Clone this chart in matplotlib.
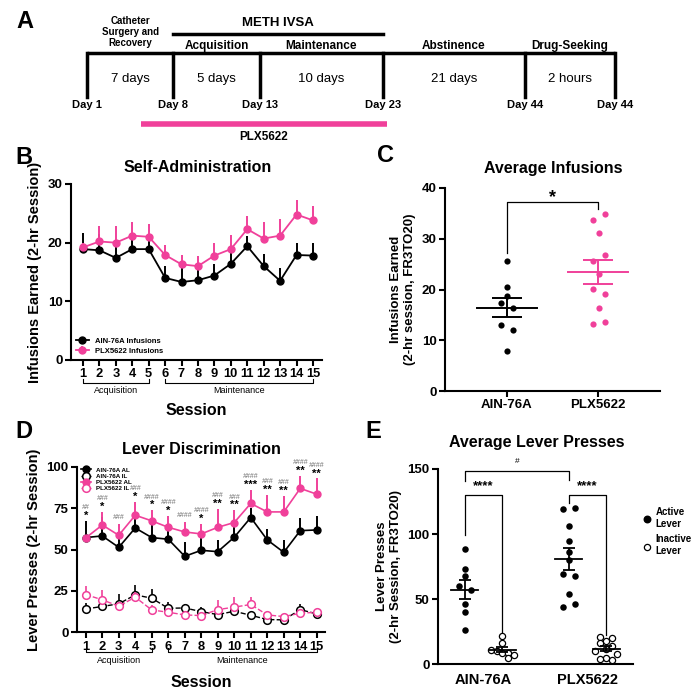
import numpy as np
import matplotlib
matplotlib.use("Agg")
import matplotlib.pyplot as plt
import matplotlib.transforms as mtransforms

plt.rcParams['font.family'] = ['Liberation Sans', 'DejaVu Sans']
plt.rcParams['font.weight'] = 'bold'
plt.rcParams['axes.labelweight'] = 'bold'
plt.rcParams['axes.linewidth'] = 1.5
plt.rcParams['xtick.major.width'] = 1.5
plt.rcParams['ytick.major.width'] = 1.5
plt.rcParams['xtick.major.size'] = 4
plt.rcParams['ytick.major.size'] = 4

PINK = '#F0409A'

# ---- panel A timeline
day_labels = ["Day 1", "Day 8", "Day 13", "Day 23", "Day 44", "Day 44"]
durations = ["7 days", "5 days", "10 days", "21 days", "2 hours"]
phases = ["Acquisition", "Maintenance", "Abstinence", "Drug-Seeking"]

# ---- panel B
sessions = np.arange(1, 16)
ain_inf = [18.9, 18.7, 17.4, 18.9, 18.9, 14.0, 13.3, 13.6, 14.4, 16.4, 19.4, 16.0, 13.5, 17.9, 17.8]
ain_inf_sem = [2.7, 2.7, 2.8, 2.3, 2.0, 2.0, 2.3, 2.2, 1.9, 2.2, 1.8, 2.1, 2.1, 2.1, 2.1]
plx_inf = [19.2, 20.2, 20.0, 21.2, 21.0, 17.9, 16.3, 16.0, 17.8, 18.9, 22.3, 20.7, 21.2, 24.8, 23.8]
plx_inf_sem = [0.8, 2.6, 2.8, 2.4, 2.1, 1.7, 1.6, 1.7, 2.2, 2.4, 2.3, 2.8, 2.8, 2.4, 2.4]

# ---- panel C
c_groups = ["AIN-76A", "PLX5622"]
c_ain = [25.7, 20.4, 18.7, 17.4, 16.4, 13.1, 12.0, 7.8]
c_plx = [33.7, 34.8, 31.1, 25.7, 26.7, 23.1, 20.1, 19.1, 16.4, 13.2, 13.5]

# ---- panel D
ain_al = [57.2, 58.2, 51.3, 63.0, 57.2, 56.2, 45.9, 49.5, 48.7, 57.4, 69.3, 55.8, 48.3, 61.4, 61.8]
ain_al_sem = [10.0, 11.5, 8.0, 6.7, 10.5, 8.5, 8.6, 10.0, 7.3, 6.8, 5.8, 6.5, 7.5, 7.9, 8.3]
ain_il = [14.1, 15.6, 17.2, 22.6, 20.6, 14.5, 14.7, 12.5, 10.7, 12.7, 10.3, 7.7, 7.5, 13.7, 11.1]
ain_il_sem = [3.5, 3.6, 6.0, 5.7, 5.3, 3.5, 2.5, 2.7, 1.5, 2.5, 1.0, 1.0, 1.0, 3.5, 1.5]
plx_al = [57.0, 64.8, 58.6, 70.7, 67.3, 63.4, 60.6, 59.4, 63.4, 66.3, 77.8, 72.7, 72.7, 86.9, 83.4]
plx_al_sem = [1.0, 8.0, 7.0, 8.0, 6.4, 7.0, 6.0, 6.3, 11.3, 7.4, 8.0, 10.5, 9.5, 7.6, 9.5]
plx_il = [22.8, 19.6, 15.8, 21.2, 13.5, 12.1, 10.5, 10.1, 13.7, 15.2, 16.8, 10.5, 9.5, 11.5, 12.1]
plx_il_sem = [4.9, 5.7, 2.4, 3.0, 2.7, 2.0, 1.6, 2.0, 6.1, 6.0, 4.8, 1.6, 1.6, 1.0, 1.2]
d_hash = ["##", "###", "###", "###", "####", "####", "####", "####", "###", "###", "####", "###", "###", "####", "####"]
d_star = ["*", "*", "", "*", "*", "*", "", "*", "**", "**", "***", "**", "**", "**", "**"]

# ---- panel E
e_ain_active = [88.6, 72.9, 67.8, 60.4, 57.1, 46.3, 40.2, 26.1]
e_ain_inactive = [21.5, 16.0, 11.0, 10.0, 9.0, 8.5, 7.5, 5.0]
e_plx_active = [119.3, 120.3, 106.2, 95.0, 86.3, 80.1, 69.4, 67.8, 53.7, 46.3, 44.0]
e_plx_inactive = [21.0, 20.0, 18.0, 16.0, 14.0, 12.0, 10.0, 8.0, 5.0, 4.0, 3.0]

W, H = 695, 700
fig = plt.figure(figsize=(6.95, 7.0), dpi=100)


def fx(px):
    return px / W


def fy(py):
    return 1 - py / H


def sem(v):
    v = np.asarray(v)
    return v.std(ddof=1) / np.sqrt(len(v))


def style(ax):
    ax.spines['top'].set_visible(False)
    ax.spines['right'].set_visible(False)
    ax.tick_params(labelsize=9.5, pad=2)


# ================= A
axA = fig.add_axes([0, fy(140), 1, 140 / H])
axA.set_xlim(0, W)
axA.set_ylim(140, 0)
axA.axis('off')
tick_x = [87, 173, 260, 383, 525, 615]
axA.plot([tick_x[0], tick_x[-1]], [53, 53], color='k', lw=2.5, solid_capstyle='butt')
for i, x in enumerate(tick_x):
    axA.plot([x, x], [53, 97], color='k', lw=2.5)
    axA.text(x, 105, day_labels[i], ha='center', va='center', fontsize=8)
for i, d in enumerate(durations):
    cx = (tick_x[i] + tick_x[i + 1]) / 2
    axA.text(cx, 79, d, ha='center', va='center', fontsize=9.5, fontweight='normal')
    if i > 0:
        axA.text(cx, 46, phases[i - 1], ha='center', va='center', fontsize=8.5)
axA.text((tick_x[0] + tick_x[1]) / 2, 32, "Catheter\nSurgery and\nRecovery", ha='center', va='center',
         fontsize=7, linespacing=1.15)
axA.plot([tick_x[1], tick_x[3]], [34, 34], color='k', lw=2.5)
axA.text(278, 23, "METH IVSA", ha='center', va='center', fontsize=9.5)
axA.plot([141, 387], [124, 124], color=PINK, lw=4, solid_capstyle='butt')
axA.text(264, 137, "PLX5622", ha='center', va='center', fontsize=8.5)
fig.text(fx(25), fy(21), "A", fontsize=17, ha='center', va='center')

# ================= B
axB = fig.add_axes([fx(71), fy(360), fx(251), 176 / H])
style(axB)
zeros = np.zeros(15)
axB.errorbar(sessions, ain_inf, yerr=[zeros, ain_inf_sem], color='k', marker='o', ms=5, lw=1.3,
             elinewidth=1.4, capsize=0, label='AIN-76A Infusions', zorder=3)
axB.errorbar(sessions, plx_inf, yerr=[zeros, plx_inf_sem], color=PINK, marker='o', ms=5, lw=1.3,
             elinewidth=1.4, capsize=0, label='PLX5622 Infusions', zorder=4)
axB.set_ylim(0, 30)
axB.set_yticks([0, 10, 20, 30])
axB.set_xlim(0.27, 15.55)
axB.set_xticks(sessions)
axB.tick_params(axis='x', labelsize=9.3)
axB.set_ylabel("Infusions Earned (2-hr Session)", fontsize=10.5, labelpad=4)
axB.set_xlabel("Session", fontsize=11.5, labelpad=16)
axB.legend(loc='lower left', bbox_to_anchor=(0.0, 0.0), fontsize=5.5, frameon=False,
           handlelength=1.6, labelspacing=0.3, borderaxespad=0.3)
fig.text(fx(24), fy(158), "B", fontsize=17, ha='center', va='center')
fig.text(fx(198), fy(168), "Self-Administration", fontsize=11.5, ha='center', va='center')


def phase_brackets(ax, yb, ytxt):
    tr = mtransforms.blended_transform_factory(ax.transData, ax.transAxes)
    for (a, b), name in [((1, 5), "Acquisition"), ((6, 15), "Maintenance")]:
        ax.plot([a, a, b, b], [yb + 0.025, yb, yb, yb + 0.025], color='k', lw=0.8,
                transform=tr, clip_on=False)
        ax.text((a + b) / 2, ytxt, name, transform=tr, ha='center', va='center',
                fontsize=6.5, fontweight='normal')


phase_brackets(axB, -0.131, -0.172)

# ================= C
axC = fig.add_axes([fx(445), fy(391), fx(215), 203 / H])
style(axC)
jit_ain = np.array([0, 0, 0, -1, 1, -1, 1, 0]) * 0.062
jit_plx = np.array([-1, 1, 0, -1, 1, 0, -1, 1, 0, -1, 1]) * 0.062 + 0.01
for i, (vals, jit, col) in enumerate([(c_ain, jit_ain, 'k'), (c_plx, jit_plx, PINK)]):
    axC.scatter(i + jit, vals, s=20, color=col, zorder=3, linewidths=0)
    m, s = np.mean(vals), sem(vals)
    axC.plot([i - 0.33, i + 0.33], [m, m], color=col, lw=1.4)
    axC.errorbar([i], [m], yerr=[s], color=col, capsize=11, elinewidth=1.4, capthick=1.4, fmt='none')
axC.set_xlim(-0.68, 1.68)
axC.set_ylim(0, 40)
axC.set_yticks([0, 10, 20, 30, 40])
axC.set_xticks([0, 1])
axC.set_xticklabels(c_groups, fontsize=9.5)
axC.set_ylabel("Infusions Earned\n(2-hr session, FR3TO20)", fontsize=9.5, labelpad=4)
axC.plot([0, 0, 1, 1], [27.2, 37.3, 37.3, 35.8], color='k', lw=0.9, clip_on=False)
axC.text(0.5, 38.2, "*", ha='center', va='center', fontsize=13)
fig.text(fx(385), fy(155), "C", fontsize=17, ha='center', va='center')
fig.text(fx(553), fy(168), "Average Infusions", fontsize=11.5, ha='center', va='center')

# ================= D
axD = fig.add_axes([fx(77), fy(632.3), fx(248), 165.6 / H])
style(axD)
axD.errorbar(sessions, ain_al, yerr=[zeros, ain_al_sem], color='k', marker='o', ms=5, lw=1.2,
             elinewidth=1.4, capsize=0, label='AIN-76A AL', zorder=3)
axD.errorbar(sessions, ain_il, yerr=[zeros, ain_il_sem], color='k', marker='o', ms=5.5, mfc='white',
             mew=1.1, lw=1.0, ls='--', elinewidth=1.2, capsize=0, label='AIN-76A IL', zorder=3)
axD.errorbar(sessions, plx_al, yerr=[zeros, plx_al_sem], color=PINK, marker='o', ms=5, lw=1.2,
             elinewidth=1.4, capsize=0, label='PLX5622 AL', zorder=4)
axD.errorbar(sessions, plx_il, yerr=[zeros, plx_il_sem], color=PINK, marker='o', ms=5.5, mfc='white',
             mew=1.1, lw=1.0, ls='--', elinewidth=1.2, capsize=0, label='PLX5622 IL', zorder=4)
for i, x in enumerate(sessions):
    top = max(ain_al[i] + ain_al_sem[i], plx_al[i] + plx_al_sem[i]) + 3
    if d_star[i]:
        axD.text(x, top, d_star[i], ha='center', va='center', fontsize=8, color='k')
        axD.text(x, top + 5, d_hash[i], ha='center', va='center', fontsize=5, color='#707070',
                 style='italic', fontweight='normal')
    else:
        axD.text(x, top + 1, d_hash[i], ha='center', va='center', fontsize=5, color='#707070',
                 style='italic', fontweight='normal')
axD.set_ylim(0, 100)
axD.set_yticks([0, 25, 50, 75, 100])
axD.set_xlim(0.47, 15.5)
axD.set_xticks(sessions)
axD.tick_params(axis='x', labelsize=9.3)
axD.set_ylabel("Lever Presses (2-hr Session)", fontsize=10.5, labelpad=4)
axD.set_xlabel("Session", fontsize=11.5, labelpad=16)
axD.legend(loc='upper left', bbox_to_anchor=(0.0, 1.02), fontsize=4.5, frameon=False,
           handlelength=1.6, labelspacing=0.15, borderaxespad=0.2)
phase_brackets(axD, -0.117, -0.171)
fig.text(fx(24), fy(431), "D", fontsize=17, ha='center', va='center')
fig.text(fx(201), fy(450), "Lever Discrimination", fontsize=11.5, ha='center', va='center')

# ================= E
axE = fig.add_axes([fx(438), fy(664.3), fx(195), 195.3 / H])
style(axE)
jit_aa = np.array([0, 0, 0, -1, 1, 0, 0, 0]) * 0.058
jit_ai = np.array([0, 0, -2, -1, 0, 1, 2, 1]) * 0.055
jit_pa = np.array([-1, 1, 0, 0, 0, 0, -1, 1, 0, 1, -1]) * 0.058
jit_pi = np.array([-1, 1, 0, -1, 1, 0, -2, 2, 0, -1, 1]) * 0.055
sets = [(0 - 0.18, e_ain_active, jit_aa, True), (0 + 0.18, e_ain_inactive, jit_ai, False),
        (1 - 0.18, e_plx_active, jit_pa, True), (1 + 0.18, e_plx_inactive, jit_pi, False)]
for x, vals, jit, filled in sets:
    if filled:
        axE.scatter(x + jit, vals, s=22, color='k', zorder=3, linewidths=0)
    else:
        axE.scatter(x + jit, vals, s=20, facecolor='white', edgecolor='k', linewidths=0.9, zorder=3)
    m, s = np.mean(vals), sem(vals)
    axE.plot([x - 0.13, x + 0.13], [m, m], color='k', lw=1.3, zorder=4)
    axE.errorbar([x], [m], yerr=[s], color='k', capsize=4.5, elinewidth=1.3, capthick=1.3,
                 fmt='none', zorder=4)
axE.scatter([], [], s=22, color='k', label='Active\nLever')
axE.scatter([], [], s=20, facecolor='white', edgecolor='k', linewidths=0.9, label='Inactive\nLever')
axE.legend(loc='upper left', bbox_to_anchor=(1.0, 0.85), fontsize=7, frameon=False,
           handletextpad=0.4, labelspacing=0.6, handlelength=1.0)
axE.set_xlim(-0.44, 1.44)
axE.set_ylim(0, 150)
axE.set_yticks([0, 50, 100, 150])
axE.set_xticks([0, 1])
axE.set_xticklabels(c_groups, fontsize=10.5)
axE.tick_params(axis='x', length=0, pad=6)
axE.set_ylabel("Lever Presses\n(2-hr Session, FR3TO20)", fontsize=9.5, labelpad=4)
axE.plot([-0.18, -0.18, 0.18, 0.18], [99.5, 130, 130, 20], color='k', lw=0.9)
axE.plot([0.82, 0.82, 1.18, 1.18], [123.6, 130, 130, 22.5], color='k', lw=0.9)
axE.plot([-0.18, -0.18, 0.82, 0.82], [141, 148.5, 148.5, 141.5], color='k', lw=0.9, clip_on=False)
axE.text(0, 136.5, "****", ha='center', va='center', fontsize=9.5)
axE.text(1, 136.5, "****", ha='center', va='center', fontsize=9.5)
axE.text(0.32, 155.5, "#", ha='center', va='center', fontsize=6, fontweight='normal')
fig.text(fx(373), fy(431), "E", fontsize=17, ha='center', va='center')
fig.text(fx(537), fy(443), "Average Lever Presses", fontsize=11.5, ha='center', va='center')

fig.savefig("out.png", dpi=100)
